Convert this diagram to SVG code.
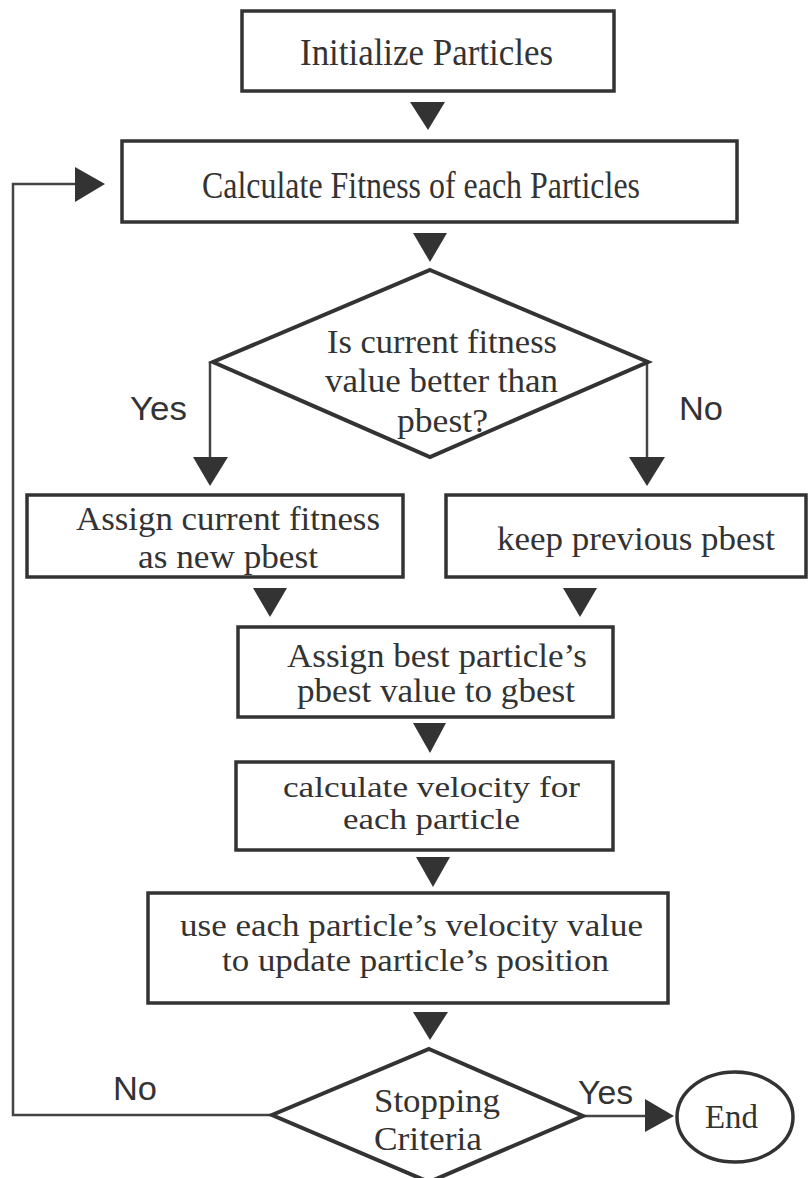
<svg xmlns="http://www.w3.org/2000/svg" width="809" height="1178" viewBox="0 0 809 1178">
<style>
.box{fill:#fff;stroke:#333;stroke-width:3.5}
.dia{fill:#fff;stroke:#333;stroke-width:4}
.ln{fill:none;stroke:#444;stroke-width:2.5}
.ah{fill:#333;stroke:none}
.t{font-family:"Liberation Serif","Times New Roman",serif;fill:#333}
.s{font-family:"Liberation Sans",Arial,sans-serif;fill:#333;font-size:34px}
</style>
<rect width="809" height="1178" fill="#fff"/>
<g id="connectors">
  <polygon class="ah" points="410,102 445,102 428,130"/>
  <polygon class="ah" points="413,233 447,233 430,262"/>
  <line class="ln" x1="210" y1="362" x2="210" y2="460"/>
  <polygon class="ah" points="193,457 228,457 210,486"/>
  <line class="ln" x1="647" y1="362" x2="647" y2="460"/>
  <polygon class="ah" points="629,457 665,457 647,486"/>
  <polygon class="ah" points="253,588 287,588 270,617"/>
  <polygon class="ah" points="563,588 597,588 580,617"/>
  <polygon class="ah" points="413,723 446,723 430,753"/>
  <polygon class="ah" points="416,857 450,857 433,887"/>
  <polygon class="ah" points="413,1012 448,1012 430,1040"/>
  <polyline class="ln" points="272,1115 13,1115 13,184 80,184"/>
  <polygon class="ah" points="75,167 105,184 75,202"/>
  <line class="ln" x1="583" y1="1116" x2="650" y2="1116"/>
  <polygon class="ah" points="645,1099 674,1116 645,1132"/>
  <text class="s" x="130" y="420" textLength="57" lengthAdjust="spacingAndGlyphs">Yes</text>
  <text class="s" x="679" y="420" textLength="44" lengthAdjust="spacingAndGlyphs">No</text>
  <text class="s" x="113" y="1100" textLength="44" lengthAdjust="spacingAndGlyphs">No</text>
  <text class="s" x="578" y="1104" textLength="55" lengthAdjust="spacingAndGlyphs">Yes</text>
</g>
<g id="init">
  <rect class="box" x="242" y="11" width="372" height="80"/>
  <text class="t" x="300" y="65" font-size="38" textLength="253" lengthAdjust="spacingAndGlyphs">Initialize Particles</text>
</g>
<g id="fitness">
  <rect class="box" x="122" y="141" width="615" height="81"/>
  <text class="t" x="202" y="198" font-size="38" textLength="438" lengthAdjust="spacingAndGlyphs">Calculate Fitness of each Particles</text>
</g>
<g id="decision1">
  <polygon class="dia" points="430,270 648,362 430,457 213,362"/>
  <text class="t" x="327" y="353" font-size="34" textLength="230" lengthAdjust="spacingAndGlyphs">Is current fitness</text>
  <text class="t" x="325" y="392" font-size="34" textLength="233" lengthAdjust="spacingAndGlyphs">value better than</text>
  <text class="t" x="397" y="432" font-size="34" textLength="91" lengthAdjust="spacingAndGlyphs">pbest?</text>
</g>
<g id="assignpbest">
  <rect class="box" x="27" y="495" width="376" height="82"/>
  <text class="t" x="76" y="530" font-size="34" textLength="304" lengthAdjust="spacingAndGlyphs">Assign current fitness</text>
  <text class="t" x="138" y="568" font-size="34" textLength="180" lengthAdjust="spacingAndGlyphs">as new pbest</text>
</g>
<g id="keeppbest">
  <rect class="box" x="446" y="495" width="360" height="82"/>
  <text class="t" x="497" y="550" font-size="34" textLength="278" lengthAdjust="spacingAndGlyphs">keep previous pbest</text>
</g>
<g id="gbest">
  <rect class="box" x="238" y="627" width="375" height="90"/>
  <text class="t" x="287" y="667" font-size="33" textLength="300" lengthAdjust="spacingAndGlyphs">Assign best particle’s</text>
  <text class="t" x="297" y="702" font-size="33" textLength="278" lengthAdjust="spacingAndGlyphs">pbest value to gbest</text>
</g>
<g id="velocity">
  <rect class="box" x="236" y="762" width="377" height="88"/>
  <text class="t" x="283" y="797" font-size="30" textLength="297" lengthAdjust="spacingAndGlyphs">calculate velocity for</text>
  <text class="t" x="343" y="829" font-size="30" textLength="177" lengthAdjust="spacingAndGlyphs">each particle</text>
</g>
<g id="position">
  <rect class="box" x="148" y="893" width="520" height="110"/>
  <text class="t" x="180" y="936" font-size="31" textLength="463" lengthAdjust="spacingAndGlyphs">use each particle’s velocity value</text>
  <text class="t" x="222" y="971" font-size="31" textLength="387" lengthAdjust="spacingAndGlyphs">to update particle’s position</text>
</g>
<g id="stopping">
  <polygon class="dia" points="429,1049 583,1116 429,1182 272,1115"/>
  <text class="t" x="374" y="1112" font-size="34" textLength="126" lengthAdjust="spacingAndGlyphs">Stopping</text>
  <text class="t" x="374" y="1150" font-size="34" textLength="108" lengthAdjust="spacingAndGlyphs">Criteria</text>
</g>
<g id="end">
  <ellipse class="box" cx="735" cy="1117" rx="58" ry="45"/>
  <text class="t" x="705" y="1128" font-size="34" textLength="53" lengthAdjust="spacingAndGlyphs">End</text>
</g>
</svg>
